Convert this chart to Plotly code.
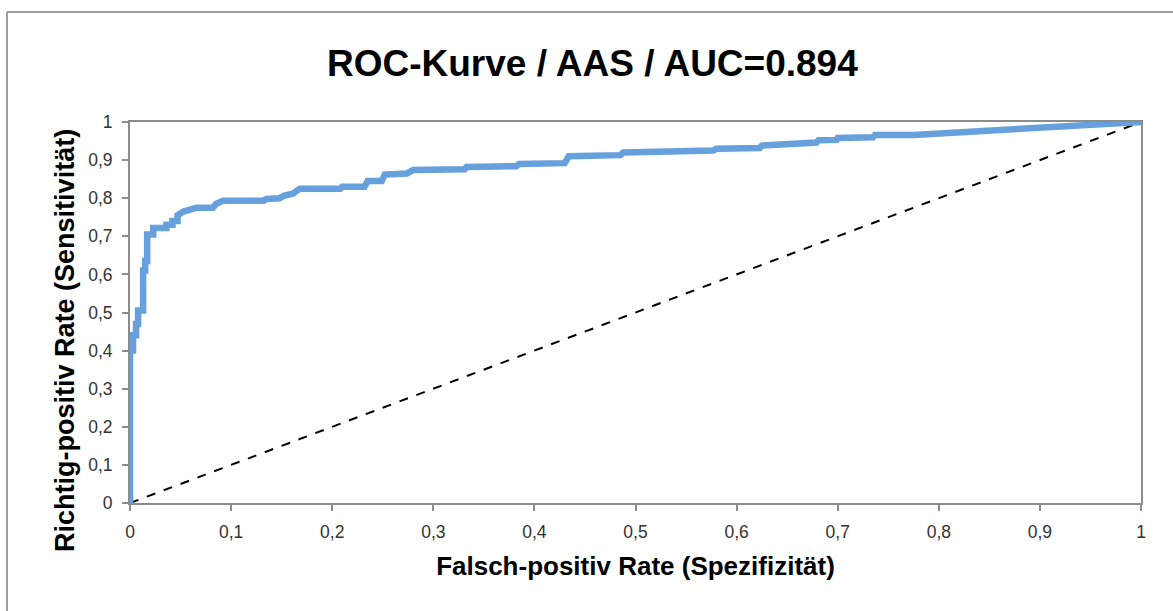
import plotly.graph_objects as go

# ROC curve vertices
fpr = [0, 0, 0.003, 0.003, 0.006, 0.006, 0.008, 0.008, 0.013, 0.013, 0.015, 0.015,
       0.017, 0.017, 0.023, 0.023, 0.036, 0.036, 0.042, 0.042, 0.047, 0.047, 0.053,
       0.061, 0.066, 0.082, 0.085, 0.092, 0.132, 0.135, 0.148, 0.152, 0.161, 0.168,
       0.208, 0.210, 0.232, 0.235, 0.249, 0.252, 0.274, 0.280, 0.331, 0.333, 0.382,
       0.385, 0.430, 0.434, 0.485, 0.488, 0.577, 0.580, 0.623, 0.625, 0.650, 0.652,
       0.679, 0.681, 0.699, 0.700, 0.735, 0.737, 0.775, 1.0]
tpr = [0, 0.40, 0.40, 0.44, 0.44, 0.47, 0.47, 0.505, 0.505, 0.61, 0.61, 0.635,
       0.635, 0.705, 0.705, 0.722, 0.722, 0.73, 0.73, 0.74, 0.74, 0.755, 0.765,
       0.77, 0.775, 0.775, 0.785, 0.793, 0.793, 0.798, 0.80, 0.806, 0.812, 0.825,
       0.825, 0.83, 0.83, 0.845, 0.845, 0.862, 0.865, 0.874, 0.876, 0.882, 0.884,
       0.89, 0.892, 0.91, 0.913, 0.92, 0.925, 0.93, 0.932, 0.938, 0.94, 0.944,
       0.946, 0.952, 0.953, 0.958, 0.96, 0.966, 0.966, 1.0]
diag_x = [0, 1]
diag_y = [0, 1]
ticks = [0, 0.1, 0.2, 0.3, 0.4, 0.5, 0.6, 0.7, 0.8, 0.9, 1]

FONT = "Liberation Sans, Arial, sans-serif"

fig = go.Figure()
fig.add_trace(go.Scatter(x=diag_x, y=diag_y, mode="lines",
                         line=dict(color="black", width=2, dash="dash"),
                         hoverinfo="skip", showlegend=False))
fig.add_trace(go.Scatter(x=fpr, y=tpr, mode="lines",
                         line=dict(color="#66a0dd", width=6.5),
                         showlegend=False))

axis_common = dict(range=[0, 1], tickvals=ticks, showgrid=False, zeroline=False,
                   showline=True, linecolor="#8c8c8c", linewidth=2, mirror=True,
                   ticks="outside", ticklen=6, tickcolor="#8c8c8c", tickwidth=2,
                   tickfont=dict(family=FONT, size=17.5, color="#333333"),
                   fixedrange=True)

fig.update_layout(
    width=1173, height=611,
    margin=dict(l=130, r=32, t=122, b=108),
    paper_bgcolor="white", plot_bgcolor="white",
    separators=",.",
    title=dict(text="<b>ROC-Kurve / AAS / AUC=0.894</b>", x=0.505, xanchor="center",
               y=0.897, yanchor="middle",
               font=dict(family=FONT, size=37, color="black")),
    xaxis=dict(**axis_common, ticklabelstandoff=6,
               title=dict(text="<b>Falsch-positiv Rate (Spezifizität)</b>", standoff=16,
                          font=dict(family=FONT, size=26, color="black"))),
    yaxis=dict(**axis_common, ticklabelstandoff=6),
    annotations=[
        dict(text="<b>Richtig-positiv Rate (Sensitivität)</b>", textangle=-90,
             xref="paper", yref="paper", x=-0.0643, y=0.428,
             xanchor="center", yanchor="middle", showarrow=False,
             font=dict(family=FONT, size=27, color="black")),
    ],
    shapes=[
        dict(type="line", xref="paper", yref="paper", x0=-0.1217, x1=1.05, y0=1.2887, y1=1.2887,
             line=dict(color="#9a9a9a", width=2)),
        dict(type="line", xref="paper", yref="paper", x0=-0.1217, x1=-0.1217, y0=1.2887, y1=-0.3,
             line=dict(color="#9a9a9a", width=2)),
    ],
)

fig.write_html("out.html")
